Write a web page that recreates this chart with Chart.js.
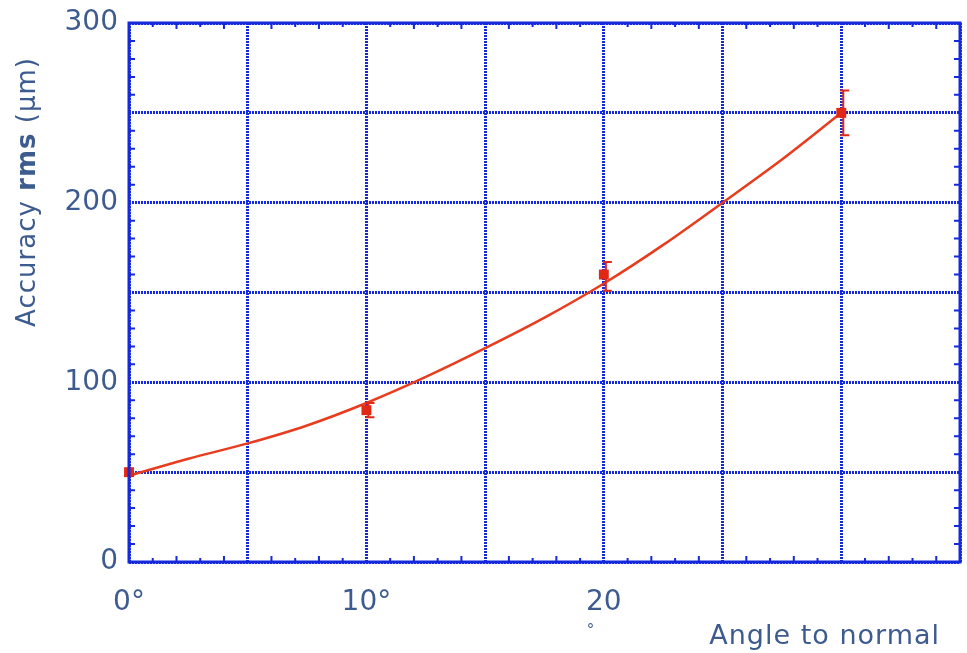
<!DOCTYPE html>
<html>
<head>
<meta charset="utf-8">
<script src="https://cdn.jsdelivr.net/npm/chart.js@4"></script>
<style>
  html, body { margin: 0; padding: 0; background: #fff; }
  #wrap { width: 967px; height: 653px; }
</style>
</head>
<body>
<div id="wrap"><canvas id="chart"></canvas></div>
<script>
// measured points (angle in degrees, rms accuracy in um)
const angles = [0, 10, 20, 30];
const accuracy = [50, 84.5, 160, 250];
const errPlus = [0, 4, 7, 12.5];
const errMinus = [0, 4, 9, 12.5];

// fitted curve
const curveAngles = [0, 2.5, 5, 7.5, 10, 12.5, 15, 17.5, 20, 22.5, 25, 27.5, 30];
const curveValues = [48, 57.5, 66, 76, 88.5, 103, 119, 136, 155, 176.5, 200, 224, 250];

const xTickLabels = { 0: "0°", 10: "10°", 20: "20" };

const blue = "rgb(20,40,220)";
const red = "rgb(225,40,20)";
const textColor = "#3d5b8f";
const font = "DejaVu Sans";

// frame, inner minor ticks, error bars, odd axis texts
const extras = {
  id: "extras",
  afterDraw(chart) {
    const { ctx, chartArea: a, scales: { x, y } } = chart;
    ctx.save();

    ctx.strokeStyle = blue;
    ctx.lineWidth = 2;
    ctx.setLineDash([]);
    ctx.beginPath();
    for (let v = 1; v < 35; v++) {
      if (v % 5 === 0) continue;
      const len = v % 2 === 0 ? 6 : 4;
      const px = x.getPixelForValue(v);
      ctx.moveTo(px, a.bottom); ctx.lineTo(px, a.bottom - len);
      ctx.moveTo(px, a.top); ctx.lineTo(px, a.top + len);
    }
    for (let v = 10; v < 300; v += 10) {
      if (v % 50 === 0) continue;
      const py = y.getPixelForValue(v);
      ctx.moveTo(a.left, py); ctx.lineTo(a.left + 6, py);
      ctx.moveTo(a.right, py); ctx.lineTo(a.right - 6, py);
    }
    ctx.stroke();
    ctx.lineWidth = 3;
    ctx.strokeRect(a.left, a.top, a.right - a.left, a.bottom - a.top);

    // error bars
    ctx.strokeStyle = red;
    ctx.lineWidth = 2;
    angles.forEach((ang, i) => {
      if (!errPlus[i] && !errMinus[i]) return;
      const px = x.getPixelForValue(ang) + 2;
      const top = y.getPixelForValue(accuracy[i] + errPlus[i]);
      const bot = y.getPixelForValue(accuracy[i] - errMinus[i]);
      ctx.beginPath();
      ctx.moveTo(px, top); ctx.lineTo(px, bot);
      ctx.moveTo(px - 3, top); ctx.lineTo(px + 6, top);
      ctx.moveTo(px - 3, bot); ctx.lineTo(px + 6, bot);
      ctx.stroke();
    });

    ctx.fillStyle = textColor;
    ctx.letterSpacing = "1px";
    ctx.font = "27px " + font;
    ctx.textAlign = "right";
    ctx.textBaseline = "middle";
    ctx.fillText("Angle to normal", 940, 637);
    ctx.font = "15px " + font;
    ctx.textAlign = "center";
    ctx.fillText("°", 591, 631);

    // rotated y title, "rms" in bold
    ctx.translate(28, 192);
    ctx.rotate(-Math.PI / 2);
    const parts = [["Accuracy ", "26px "], ["rms", "bold 26px "], [" (μm)", "26px "]];
    let total = 0;
    parts.forEach(([t, f]) => { ctx.font = f + font; total += ctx.measureText(t).width; });
    let cx = -total / 2;
    ctx.textAlign = "left";
    parts.forEach(([t, f]) => {
      ctx.font = f + font;
      ctx.fillText(t, cx, 0);
      cx += ctx.measureText(t).width;
    });
    ctx.restore();
  }
};

new Chart(document.getElementById("chart"), {
  data: {
    datasets: [
      {
        type: "line",
        data: curveAngles.map((a, i) => ({ x: a, y: curveValues[i] })),
        borderColor: "rgb(232,60,30)",
        borderWidth: 2.5,
        pointRadius: 0,
        cubicInterpolationMode: "monotone",
        fill: false,
        order: 2
      },
      {
        type: "scatter",
        data: angles.map((a, i) => ({ x: a, y: accuracy[i] })),
        pointStyle: "rect",
        pointRadius: 7,
        backgroundColor: red,
        borderColor: red,
        borderWidth: 0,
        clip: false,
        order: 1
      }
    ]
  },
  options: {
    responsive: true,
    maintainAspectRatio: false,
    animation: false,
    layout: { padding: { left: 0, top: 23, right: 5, bottom: 0 } },
    plugins: { legend: { display: false }, tooltip: { enabled: false } },
    scales: {
      x: {
        type: "linear",
        min: 0,
        max: 35,
        afterFit: (s) => { s.height = 91; s.paddingLeft = 0; s.paddingRight = 0; },
        border: { display: false, dash: [2, 1] },
        grid: { color: blue, lineWidth: 3, drawTicks: false },
        ticks: {
          stepSize: 5,
          padding: 24,
          color: textColor,
          font: { family: font, size: 28 },
          maxRotation: 0,
          callback: (v) => xTickLabels[v] || ""
        }
      },
      y: {
        min: 0,
        max: 300,
        afterFit: (s) => { s.width = 129; s.paddingTop = 0; s.paddingBottom = 0; },
        border: { display: false, dash: [2, 1] },
        grid: { color: blue, lineWidth: 3, drawTicks: false },
        ticks: {
          stepSize: 50,
          padding: 11,
          color: textColor,
          font: { family: font, size: 28 },
          callback: (v) => (v % 100 === 0 ? String(v) : "")
        }
      }
    }
  },
  plugins: [extras]
});
</script>
</body>
</html>
